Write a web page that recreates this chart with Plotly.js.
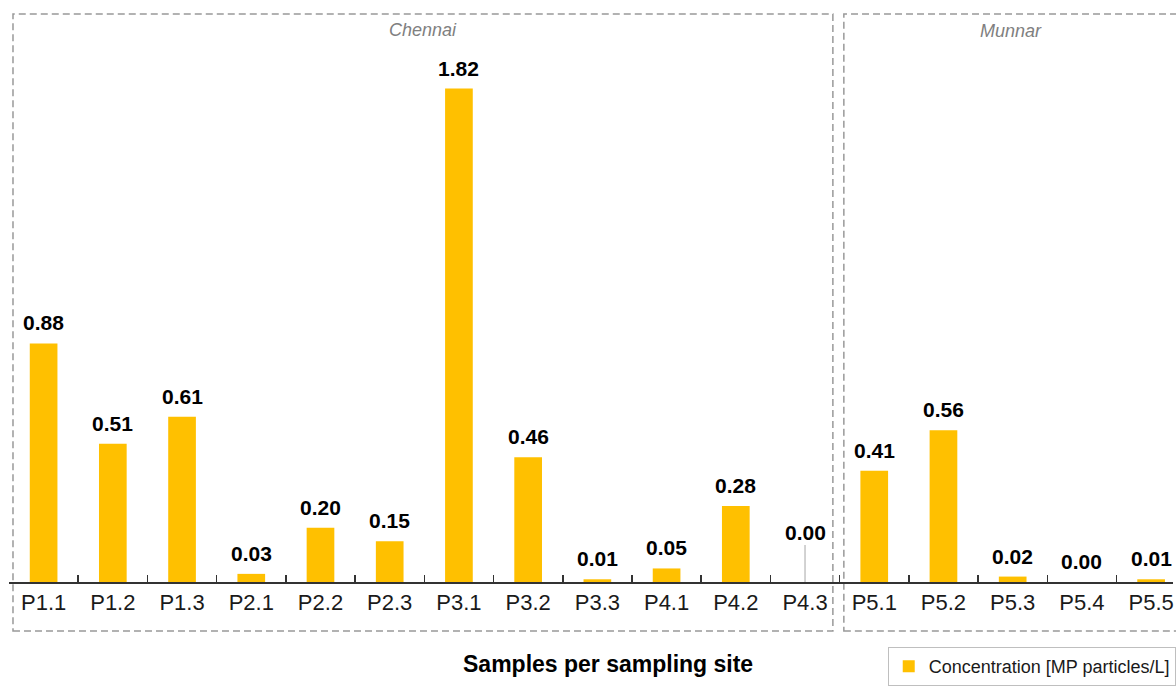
<!DOCTYPE html>
<html>
<head>
<meta charset="utf-8">
<script src="https://cdn.plot.ly/plotly-3.0.1.min.js"></script>
<style>
  html, body { margin: 0; padding: 0; background: #fff; }
  #chart { width: 1176px; height: 689px; }
</style>
</head>
<body>
<div id="chart"></div>
<script>
// ---- data ----
const categories = ['P1.1','P1.2','P1.3','P2.1','P2.2','P2.3','P3.1','P3.2','P3.3','P4.1','P4.2','P4.3','P5.1','P5.2','P5.3','P5.4','P5.5'];
const concentration = [0.88, 0.51, 0.61, 0.03, 0.20, 0.15, 1.82, 0.46, 0.01, 0.05, 0.28, 0.00, 0.41, 0.56, 0.02, 0.00, 0.01];
const seriesName = 'Concentration [MP particles/L]';
const groupNames = ['Chennai', 'Munnar'];
const xTitle = 'Samples per sampling site';

// ---- layout helpers (pixel -> paper) ----
const W = 1176, H = 689;
const mL = 9, mR = 0, mT = 10, mB = 107;
const pw = W - mL - mR, ph = H - mT - mB;
const baseY = H - mB;
const px = v => (v - mL) / pw;
const py = v => (baseY - v) / ph;

const FONT = '"Liberation Sans", Arial, sans-serif';
const barColor = '#FFC000';

const trace = {
  type: 'bar',
  x: categories,
  y: concentration,
  name: seriesName,
  width: 0.4,
  marker: { color: barColor },
  hoverinfo: 'x+y',
  showlegend: true
};

// value labels
const annotations = categories.map((c, i) => {
  const v = concentration[i];
  const txt = v.toFixed(2);
  if (c === 'P4.3') {
    return {
      x: c, y: v, xref: 'x', yref: 'y',
      text: txt, showarrow: true, arrowhead: 0, arrowwidth: 1,
      arrowcolor: '#a6a6a6', ax: 0, ay: -50, standoff: 0,
      font: { family: FONT, size: 21, color: '#000', weight: 'bold' }
    };
  }
  return {
    x: c, y: v, xref: 'x', yref: 'y',
    text: txt, showarrow: false, yanchor: 'bottom', yshift: 7,
    font: { family: FONT, size: 21, color: '#000', weight: 'bold' }
  };
});

// group labels
annotations.push({
  xref: 'paper', yref: 'paper', x: px(424), y: py(30), text: '<i>' + groupNames[0] + '</i>',
  showarrow: false, xanchor: 'center', yanchor: 'middle',
  font: { family: FONT, size: 18, color: '#808080' }
});
annotations.push({
  xref: 'paper', yref: 'paper', x: px(1014), y: py(31), text: '<i>' + groupNames[1] + '</i>',
  showarrow: false, xanchor: 'center', yanchor: 'middle',
  font: { family: FONT, size: 18, color: '#808080' }
});
// axis title
annotations.push({
  xref: 'paper', yref: 'paper', x: px(609.5), y: py(664), text: '<b>' + xTitle + '</b>',
  showarrow: false, xanchor: 'center', yanchor: 'middle',
  font: { family: FONT, size: 23, color: '#000' }
});

const boxLine = { color: '#999999', width: 1.5, dash: '7px,4px' };
const shapes = [
  { type: 'rect', xref: 'paper', yref: 'paper', x0: px(13), x1: px(835), y0: py(631), y1: py(14), line: boxLine, layer: 'below' },
  { type: 'rect', xref: 'paper', yref: 'paper', x0: px(846), x1: px(1200), y0: py(631), y1: py(14), line: boxLine, layer: 'below' }
];

const layout = {
  width: W, height: H,
  margin: { l: mL, r: mR, t: mT, b: mB, pad: 0 },
  paper_bgcolor: '#fff', plot_bgcolor: '#fff',
  font: { family: FONT, color: '#1a1a1a' },
  xaxis: {
    type: 'category',
    range: [-0.5, 16.316],
    ticks: 'inside', tickson: 'boundaries', ticklen: 7, tickwidth: 1.5, tickcolor: '#333333',
    showline: true, linecolor: '#333333', linewidth: 1.5,
    showgrid: false, zeroline: false,
    tickfont: { family: FONT, size: 22, color: '#1a1a1a' },
    fixedrange: true
  },
  yaxis: {
    range: [0, 2.11], visible: false, showgrid: false, zeroline: false, fixedrange: true
  },
  showlegend: true,
  legend: {
    x: px(890), y: py(647), xanchor: 'left', yanchor: 'top',
    bordercolor: '#bfbfbf', borderwidth: 1, bgcolor: '#fff',
    font: { family: FONT, size: 18, color: '#1a1a1a' }
  },
  shapes: shapes,
  annotations: annotations
};

Plotly.newPlot('chart', [trace], layout, { displayModeBar: false, staticPlot: true });
</script>
</body>
</html>
